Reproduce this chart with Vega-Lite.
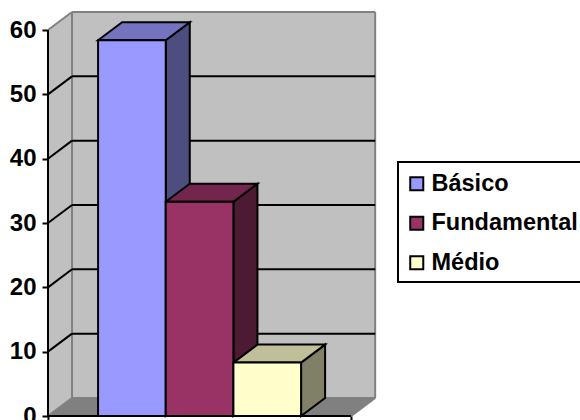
{
  "$schema": "https://vega.github.io/schema/vega-lite/v6.json",
  "width": 532,
  "height": 404,
  "padding": {"left": 48, "top": 12, "right": 0, "bottom": 4},
  "autosize": {"type": "none"},
  "background": "white",
  "config": {"view": {"stroke": null}, "font": "Liberation Sans", "legend": {"strokeWidth": 2}},
  "datasets": {
    "barras": [
      {"serie": "Básico", "valor": 58.4, "x0": 0.74, "x1": 1.74},
      {"serie": "Fundamental", "valor": 33.3, "x0": 1.74, "x1": 2.74},
      {"serie": "Médio", "valor": 8.3, "x0": 2.74, "x1": 3.74}
    ],
    "laterais": [
      {"serie": "Básico", "x": 1.74, "y": 58.4, "y2": 0},
      {"serie": "Básico", "x": 2.095, "y": 61.2, "y2": 2.8},
      {"serie": "Fundamental", "x": 2.74, "y": 33.3, "y2": 0},
      {"serie": "Fundamental", "x": 3.095, "y": 36.1, "y2": 2.8},
      {"serie": "Médio", "x": 3.74, "y": 8.3, "y2": 0},
      {"serie": "Médio", "x": 4.095, "y": 11.1, "y2": 2.8}
    ],
    "topos": [
      {"serie": "Básico", "y": 58.4, "x": 0.74, "x2": 1.74},
      {"serie": "Básico", "y": 61.2, "x": 1.095, "x2": 2.095},
      {"serie": "Fundamental", "y": 33.3, "x": 1.74, "x2": 2.74},
      {"serie": "Fundamental", "y": 36.1, "x": 2.095, "x2": 3.095},
      {"serie": "Médio", "y": 8.3, "x": 2.74, "x2": 3.74},
      {"serie": "Médio", "y": 11.1, "x": 3.095, "x2": 4.095}
    ],
    "grade": [
      {"x": 0, "x2": 0.355, "y": 10, "y2": 12.8},
      {"x": 0, "x2": 0.355, "y": 20, "y2": 22.8},
      {"x": 0, "x2": 0.355, "y": 30, "y2": 32.8},
      {"x": 0, "x2": 0.355, "y": 40, "y2": 42.8},
      {"x": 0, "x2": 0.355, "y": 50, "y2": 52.8},
      {"x": 0.355, "x2": 4.835, "y": 12.8, "y2": 12.8},
      {"x": 0.355, "x2": 4.835, "y": 22.8, "y2": 22.8},
      {"x": 0.355, "x2": 4.835, "y": 32.8, "y2": 32.8},
      {"x": 0.355, "x2": 4.835, "y": 42.8, "y2": 42.8},
      {"x": 0.355, "x2": 4.835, "y": 52.8, "y2": 52.8}
    ],
    "bordas": [
      {"x": 0, "x2": 0.355, "y": 60, "y2": 62.8},
      {"x": 0.355, "x2": 4.835, "y": 62.8, "y2": 62.8},
      {"x": 0.355, "x2": 0.355, "y": 2.8, "y2": 62.8},
      {"x": 4.835, "x2": 4.835, "y": 2.8, "y2": 62.8},
      {"x": 0.355, "x2": 4.835, "y": 2.8, "y2": 2.8},
      {"x": 0, "x2": 0.355, "y": 0, "y2": 2.8},
      {"x": 4.48, "x2": 4.835, "y": 0, "y2": 2.8}
    ],
    "eixos": [
      {"x": 0, "x2": 0, "y": 0, "y2": 60},
      {"x": 0, "x2": 4.48, "y": 0, "y2": 0}
    ]
  },
  "layer": [
    {
      "description": "Back wall",
      "data": {"values": [{"x": 0.355, "x2": 4.835, "y": 2.8, "y2": 62.8}]},
      "mark": {"type": "rect", "fill": "#c0c0c0"},
      "encoding": {
        "x": {"field": "x", "type": "quantitative",
          "scale": {"domain": [0, 7.862], "nice": false, "zero": false},
          "axis": {"values": [0, 4.48], "labels": false, "domain": false, "grid": false, "title": null, "tickColor": "black", "tickWidth": 2, "tickSize": 5}},
        "x2": {"field": "x2"},
        "y": {"field": "y", "type": "quantitative",
          "scale": {"domain": [0, 62.8], "nice": false, "zero": false},
          "axis": {"values": [0, 10, 20, 30, 40, 50, 60], "domain": false, "grid": false, "title": null, "tickColor": "black", "tickWidth": 2, "tickSize": 6, "labelFontSize": 24, "labelFontWeight": "bold", "labelColor": "black", "labelPadding": 6, "labelFlush": false, "labelOverlap": false}},
        "y2": {"field": "y2"}
      }
    },
    {
      "description": "Left side wall",
      "data": {"values": [
        {"x": 0, "y": 0, "y2": 60},
        {"x": 0.355, "y": 2.8, "y2": 62.8}
      ]},
      "mark": {"type": "area", "fill": "#c0c0c0"},
      "encoding": {
        "x": {"field": "x", "type": "quantitative"},
        "y": {"field": "y", "type": "quantitative", "stack": null},
        "y2": {"field": "y2"}
      }
    },
    {
      "description": "Floor",
      "data": {"values": [
        {"y": 0, "x": 0, "x2": 4.48},
        {"y": 2.8, "x": 0.355, "x2": 4.835}
      ]},
      "mark": {"type": "area", "orient": "horizontal", "fill": "#808080"},
      "encoding": {
        "y": {"field": "y", "type": "quantitative"},
        "x": {"field": "x", "type": "quantitative", "stack": null},
        "x2": {"field": "x2"}
      }
    },
    {
      "data": {"name": "bordas"},
      "mark": {"type": "rule", "color": "#808080", "strokeWidth": 2},
      "encoding": {
        "x": {"field": "x", "type": "quantitative"},
        "x2": {"field": "x2"},
        "y": {"field": "y", "type": "quantitative"},
        "y2": {"field": "y2"}
      }
    },
    {
      "data": {"name": "grade"},
      "mark": {"type": "rule", "color": "black", "strokeWidth": 2},
      "encoding": {
        "x": {"field": "x", "type": "quantitative"},
        "x2": {"field": "x2"},
        "y": {"field": "y", "type": "quantitative"},
        "y2": {"field": "y2"}
      }
    },
    {
      "data": {"name": "eixos"},
      "mark": {"type": "rule", "color": "black", "strokeWidth": 2},
      "encoding": {
        "x": {"field": "x", "type": "quantitative"},
        "x2": {"field": "x2"},
        "y": {"field": "y", "type": "quantitative"},
        "y2": {"field": "y2"}
      }
    },
    {
      "description": "Right-hand faces of the columns",
      "data": {"name": "laterais"},
      "mark": {"type": "area", "stroke": "black", "strokeWidth": 2},
      "encoding": {
        "x": {"field": "x", "type": "quantitative"},
        "y": {"field": "y", "type": "quantitative", "stack": null},
        "y2": {"field": "y2"},
        "color": {"field": "serie", "type": "nominal", "legend": null,
          "scale": {"domain": ["Básico", "Fundamental", "Médio"], "range": ["#4d4d80", "#4d1a33", "#808066"]}}
      }
    },
    {
      "description": "Top faces of the columns",
      "data": {"name": "topos"},
      "mark": {"type": "area", "orient": "horizontal", "stroke": "black", "strokeWidth": 2},
      "encoding": {
        "y": {"field": "y", "type": "quantitative"},
        "x": {"field": "x", "type": "quantitative", "stack": null},
        "x2": {"field": "x2"},
        "color": {"field": "serie", "type": "nominal", "legend": null,
          "scale": {"domain": ["Básico", "Fundamental", "Médio"], "range": ["#7373bf", "#73264d", "#bfbf99"]}}
      }
    },
    {
      "description": "Front faces of the columns, carrying the legend",
      "data": {"name": "barras"},
      "mark": {"type": "rect", "stroke": "black", "strokeWidth": 2},
      "encoding": {
        "x": {"field": "x0", "type": "quantitative"},
        "x2": {"field": "x1"},
        "y": {"field": "valor", "type": "quantitative"},
        "y2": {"datum": 0},
        "color": {"field": "serie", "type": "nominal",
          "scale": {"domain": ["Básico", "Fundamental", "Médio"], "range": ["#9999ff", "#993366", "#ffffcc"]},
          "legend": {
            "title": " ",
            "titleFontSize": 3,
            "titlePadding": 0,
            "orient": "none",
            "legendX": 350,
            "legendY": 150,
            "strokeColor": "black",
            "fillColor": "white",
            "padding": 7,
            "rowPadding": 14.5,
            "symbolType": "square",
            "symbolSize": 170,
            "symbolOffset": 0,
            "symbolStrokeColor": "black",
            "symbolStrokeWidth": 2,
            "symbolOpacity": 1,
            "labelFontSize": 23.5,
            "labelFontWeight": "bold",
            "labelColor": "black",
            "labelOffset": 3,
            "labelLimit": 300
          }
        }
      }
    }
  ],
  "resolve": {"scale": {"color": "independent"}}
}
